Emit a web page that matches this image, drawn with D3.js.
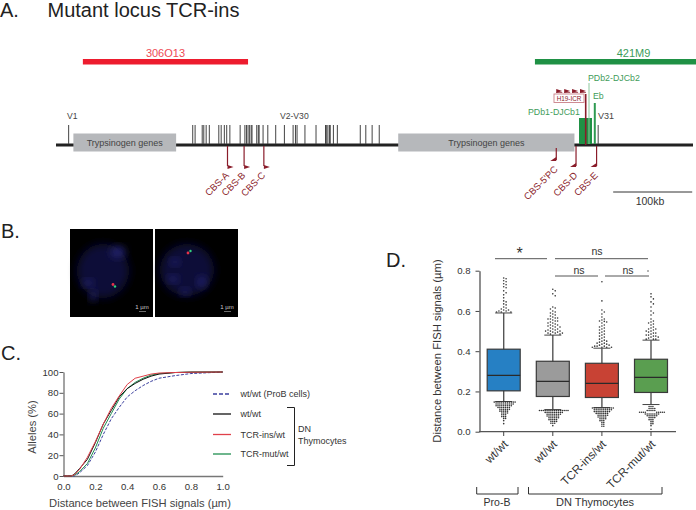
<!DOCTYPE html>
<html>
<head>
<meta charset="utf-8">
<script src="https://cdn.jsdelivr.net/npm/d3@7"></script>
<style>
  html, body { margin: 0; padding: 0; background: #fff; }
  svg { display: block; }
  text { font-family: "Liberation Sans", Arial, sans-serif; }
  .axis text { font-family: "Liberation Sans", Arial, sans-serif; }
</style>
</head>
<body>
<div id="chart"></div>
<script>
// Panel A: locus map, everything in kb along the locus
const vGenes = [16, 173, 176, 185, 187, 190, 194, 206, 209, 213, 216, 220, 233, 239, 241, 243, 245, 247, 248,
  254, 256, 257, 262, 268, 278, 289, 300, 303, 305, 315, 329, 341, 342, 344, 346, 347, 351, 356, 385, 392, 400, 409, 686];
const trypsinogen = [[22, 152], [433, 656]];
const bacs = [["306O13", 34, 243, "#ed1c2e", "#ee4a55"], ["421M9", 606, 812, "#1f9145", "#3c9c5a"]];
const cbsNames = ["CBS-A", "CBS-B", "CBS-C", "CBS-5'PC", "CBS-D", "CBS-E"];
const cbsSites = [217, 238, 263, 633, 658, 684];
const icrFlags = [633, 643, 653, 663];

// Panel C: cumulative curves
const cdfX = [0, 0.05, 0.07, 0.1, 0.15, 0.2, 0.25, 0.3, 0.35, 0.4, 0.45, 0.5, 0.55, 0.6, 0.7, 0.8, 1.0];
const cdfProB = [0, 0, 0, 3, 10, 23, 40, 55, 66, 76, 82, 87, 91, 94, 96.5, 98.5, 100];
const cdfWt = [0, 0, 2, 7, 16, 32, 50, 63, 76, 84, 89, 93, 96, 98, 99.5, 99.8, 100];
const cdfIns = [0, 0, 1.5, 6, 18, 33, 50, 65, 77, 88, 94, 96, 98, 99, 99.5, 99.8, 100];
const cdfMut = [0, 0, 1, 4, 12, 27, 46, 60, 74, 84, 90, 94, 97, 98.5, 99.5, 100, 100];
const legendNames = ["wt/wt (ProB cells)", "wt/wt", "TCR-ins/wt", "TCR-mut/wt"];

// Panel D: box plots
const boxNames = ["wt/wt ", "wt/wt", "TCR-ins/wt", "TCR-mut/wt"];
const boxLow = [0.15, 0.11, 0.12, 0.135];
const boxQ1 = [0.203, 0.175, 0.17, 0.195];
const boxMedian = [0.28, 0.25, 0.24, 0.27];
const boxQ3 = [0.41, 0.35, 0.34, 0.36];
const boxHigh = [0.59, 0.48, 0.415, 0.455];
const boxColors = ["#2680c4", "#9b9b9b", "#c84234", "#5a9e50"];

const outProB = [0.764, 0.76, 0.75, 0.745, 0.735, 0.73, 0.72, 0.715, 0.7, 0.69, 0.68, 0.665, 0.65, 0.645, 0.635, 0.63, 0.62, 0.615, 0.61, 0.605, 0.605, 0.6, 0.6, 0.595, 0.595, 0.595,
  0.147, 0.147, 0.147, 0.147, 0.147, 0.147, 0.147, 0.147, 0.147, 0.147, 0.147, 0.147, 0.138, 0.138, 0.138, 0.138, 0.138, 0.138, 0.138, 0.138, 0.138, 0.138,
  0.129, 0.129, 0.129, 0.129, 0.129, 0.129, 0.129, 0.129, 0.129, 0.12, 0.12, 0.12, 0.12, 0.12, 0.12, 0.12, 0.111, 0.111, 0.111, 0.111, 0.111, 0.111,
  0.102, 0.102, 0.102, 0.102, 0.102, 0.093, 0.093, 0.093, 0.093, 0.084, 0.084, 0.084, 0.075, 0.075, 0.075, 0.066, 0.066, 0.055, 0.04];
const outWt = [0.708, 0.7, 0.685, 0.675, 0.62, 0.615, 0.61, 0.6, 0.595, 0.59, 0.585, 0.58, 0.575, 0.57, 0.565, 0.565, 0.56, 0.56, 0.555, 0.55, 0.55, 0.545, 0.54, 0.54, 0.535, 0.53, 0.53, 0.525, 0.525, 0.52, 0.52, 0.515, 0.51, 0.51, 0.505, 0.505, 0.5, 0.5, 0.5, 0.495, 0.495, 0.49, 0.49, 0.49, 0.485, 0.485,
  0.105, 0.105, 0.105, 0.105, 0.105, 0.105, 0.105, 0.105, 0.105, 0.105, 0.105, 0.105, 0.105, 0.105, 0.105, 0.105, 0.096, 0.096, 0.096, 0.096, 0.096, 0.096, 0.096, 0.096, 0.096, 0.096, 0.087, 0.087, 0.087, 0.087, 0.087, 0.087, 0.087, 0.087,
  0.078, 0.078, 0.078, 0.078, 0.078, 0.078, 0.078, 0.069, 0.069, 0.069, 0.069, 0.069, 0.069, 0.06, 0.06, 0.06, 0.06, 0.06, 0.051, 0.051, 0.051, 0.051, 0.042, 0.042, 0.042, 0.03];
const outIns = [0.745, 0.65, 0.605, 0.595, 0.585, 0.57, 0.56, 0.555, 0.55, 0.548, 0.545, 0.54, 0.53, 0.525, 0.52, 0.515, 0.51, 0.505, 0.5, 0.495, 0.49, 0.485, 0.48, 0.475, 0.47, 0.465, 0.46, 0.455, 0.45, 0.45, 0.445, 0.44, 0.44, 0.435, 0.435, 0.43, 0.43, 0.425, 0.425, 0.425, 0.42, 0.42, 0.42, 0.42,
  0.118, 0.118, 0.118, 0.118, 0.118, 0.118, 0.118, 0.118, 0.118, 0.118, 0.118, 0.118, 0.109, 0.109, 0.109, 0.109, 0.109, 0.109, 0.109, 0.109, 0.109, 0.109, 0.1, 0.1, 0.1, 0.1, 0.1, 0.1, 0.1, 0.1, 0.1,
  0.091, 0.091, 0.091, 0.091, 0.091, 0.091, 0.091, 0.082, 0.082, 0.082, 0.082, 0.082, 0.082, 0.073, 0.073, 0.073, 0.073, 0.073, 0.064, 0.064, 0.064, 0.064, 0.055, 0.055, 0.055, 0.046, 0.046, 0.037, 0.037, 0.027, 0.027];
const outMut = [0.685, 0.67, 0.66, 0.645, 0.635, 0.62, 0.6, 0.59, 0.58, 0.56, 0.55, 0.545, 0.54, 0.535, 0.53, 0.52, 0.515, 0.51, 0.51, 0.505, 0.5, 0.5, 0.495, 0.49, 0.49, 0.485, 0.48, 0.48, 0.475, 0.475, 0.47, 0.47, 0.465, 0.46, 0.46, 0.46,
  0.125, 0.125, 0.125, 0.115, 0.115, 0.115, 0.115, 0.105, 0.105, 0.105, 0.105, 0.105, 0.097, 0.097, 0.097, 0.097, 0.097, 0.097, 0.097, 0.097, 0.097,
  0.088, 0.088, 0.088, 0.088, 0.088, 0.088, 0.088, 0.088, 0.079, 0.079, 0.079, 0.079, 0.079, 0.079, 0.07, 0.07, 0.07, 0.07, 0.06, 0.06, 0.06, 0.05, 0.05, 0.04, 0.04, 0.03, 0.012];
const outliers = [outProB, outWt, outIns, outMut];

const ink = "#333";
const darkRed = "#8a1c2a";
const svg = d3.select("#chart").append("svg").attr("width", 696).attr("height", 510);

// small helper for plain text
function label(g, x, y, txt, size, fill, anchor) {
  return g.append("text").attr("x", x).attr("y", y).attr("font-size", size)
    .attr("fill", fill || ink).attr("text-anchor", anchor || "start").text(txt);
}

// panel letters and title
const heads = svg.append("g");
label(heads, 0, 17, "A.", 20, "#222");
label(heads, 47.5, 17, "Mutant locus TCR-ins", 20, "#222");
label(heads, 1, 238, "B.", 20, "#222");
label(heads, 1, 360, "C.", 20, "#222");
label(heads, 386, 267, "D.", 20, "#222");

// ---------- Panel A ----------
const locus = d3.scaleLinear().domain([0, 806]).range([56, 693]);
const a = svg.append("g");

a.append("rect").attr("x", locus(0)).attr("y", 143.5).attr("width", locus(806) - locus(0)).attr("height", 3).attr("fill", "#222");

a.selectAll(".box").data(trypsinogen).join("rect")
  .attr("x", d => locus(d[0])).attr("width", d => locus(d[1]) - locus(d[0]))
  .attr("y", 133.5).attr("height", 18).attr("fill", "#b6b8bb");
trypsinogen.forEach(d => label(a, (locus(d[0]) + locus(d[1])) / 2, 146, "Trypsinogen genes", 9, "#444", "middle"));

a.selectAll(".vgene").data(vGenes).join("line")
  .attr("x1", d => locus(d)).attr("x2", d => locus(d)).attr("y1", 125).attr("y2", 144)
  .attr("stroke", "#444").attr("stroke-width", 1);

label(a, 67, 119, "V1", 8.6, "#444");
label(a, 280, 119, "V2-V30", 8.6, "#444");
label(a, 598, 119, "V31", 9, "#444");

bacs.forEach(b => {
  a.append("rect").attr("x", locus(b[1])).attr("width", locus(b[2]) - locus(b[1]))
    .attr("y", 59).attr("height", 5.5).attr("fill", b[3]);
  label(a, (locus(b[1]) + Math.min(locus(b[2]), 696)) / 2 + (b[0] === "421M9" ? 18 : 0), 56.5, b[0], 11, b[4], "middle");
});

// CBS sites
cbsSites.forEach((s, i) => {
  const x = locus(s), left = i >= 3;
  const y0 = i === 3 ? 148 : 146, y1 = i === 3 ? 160 : 166;
  a.append("line").attr("x1", x).attr("x2", x).attr("y1", y0).attr("y2", y1).attr("stroke", darkRed).attr("stroke-width", 1.2);
  const p = left ? [[x, y1 - 3], [x, y1 + 1], [x - 6, y1 + 1]] : [[x, y1 - 1], [x, y1 + 3], [x + 6, y1 + 1]];
  a.append("polygon").attr("points", p.join(" ")).attr("fill", darkRed);
  const lx = x + 2, ly = i === 3 ? 170 : 176;
  a.append("text").attr("transform", `translate(${lx},${ly}) rotate(-45)`).attr("text-anchor", "end")
    .attr("font-size", 9.5).attr("fill", darkRed).text(cbsNames[i]);
});

// PDb / Eb elements and the H19-ICR insert
a.append("rect").attr("x", 579).attr("y", 118).attr("width", 13).attr("height", 26).attr("fill", "#1f9145");
a.append("line").attr("x1", 589).attr("x2", 589).attr("y1", 83).attr("y2", 144).attr("stroke", "#8cc79c").attr("stroke-width", 1);
a.append("line").attr("x1", 594.8).attr("x2", 594.8).attr("y1", 103).attr("y2", 144).attr("stroke", "#2f9a52").attr("stroke-width", 2);
a.append("line").attr("x1", 585.7).attr("x2", 585.7).attr("y1", 94).attr("y2", 145).attr("stroke", darkRed).attr("stroke-width", 1.6);
a.append("rect").attr("x", 554).attr("y", 94).attr("width", 30).attr("height", 8.5).attr("fill", "#fff").attr("stroke", "#c98088").attr("stroke-width", 0.9);
label(a, 569, 101, "H19-ICR", 6.3, darkRed, "middle");
icrFlags.forEach(k => {
  const x = locus(k) + 5;
  a.append("polygon").attr("points", [[x - 5, 89], [x - 5, 93], [x + 1, 91]].join(" ")).attr("fill", darkRed);
  a.append("line").attr("x1", x - 5).attr("x2", x + 1).attr("y1", 92.5).attr("y2", 92.5).attr("stroke", darkRed).attr("stroke-width", 0.7);
});
label(a, 588, 80.5, "PDb2-DJCb2", 8.8, "#3f9c5a");
label(a, 593, 99, "Eb", 8.8, "#3f9c5a");
label(a, 528, 115, "PDb1-DJCb1", 8.8, "#3f9c5a");

// scale bar
a.append("line").attr("x1", locus(705)).attr("x2", locus(805)).attr("y1", 192).attr("y2", 192).attr("stroke", "#333").attr("stroke-width", 1);
label(a, 650, 205, "100kb", 10.5, "#333", "middle");

// ---------- Panel B (micrographs) ----------
const defs = svg.append("defs");
defs.append("filter").attr("id", "soft").attr("x", "-50%").attr("y", "-50%").attr("width", "200%").attr("height", "200%")
  .append("feGaussianBlur").attr("stdDeviation", 4);
defs.append("filter").attr("id", "softer").attr("x", "-100%").attr("y", "-100%").attr("width", "300%").attr("height", "300%")
  .append("feGaussianBlur").attr("stdDeviation", 0.6);

const cells = [
  { x: 70, nucleus: [103, 271, 26, 27], patches: [[88, 283, 5, 3], [93, 296, 3, 5], [118, 252, 7, 5]], red: [113, 284.5], green: [115, 286.5], bar: 143 },
  { x: 155, nucleus: [187, 270, 27, 26], patches: [[173, 279, 5, 3], [202, 282, 4, 5], [175, 262, 4, 3], [185, 292, 4, 3]], red: [188, 253], green: [190.5, 251], bar: 228 }
];
cells.forEach(c => {
  const g = svg.append("g");
  g.append("rect").attr("x", c.x).attr("y", 229).attr("width", 83).attr("height", 88).attr("fill", "#000");
  g.append("ellipse").attr("cx", c.nucleus[0]).attr("cy", c.nucleus[1]).attr("rx", c.nucleus[2]).attr("ry", c.nucleus[3])
    .attr("fill", "#0c0c38").attr("filter", "url(#soft)");
  c.patches.forEach(p => g.append("ellipse").attr("cx", p[0]).attr("cy", p[1]).attr("rx", p[2]).attr("ry", p[3])
    .attr("fill", "#2a2a80").attr("filter", "url(#soft)"));
  g.append("circle").attr("cx", c.red[0]).attr("cy", c.red[1]).attr("r", 1.4).attr("fill", "#e8304a").attr("filter", "url(#softer)");
  g.append("circle").attr("cx", c.green[0]).attr("cy", c.green[1]).attr("r", 1.2).attr("fill", "#30d080").attr("filter", "url(#softer)");
  label(g, c.bar - 1, 309, "1 µm", 6, "#ccc", "middle");
  g.append("line").attr("x1", c.bar - 4).attr("x2", c.bar + 3).attr("y1", 311.5).attr("y2", 311.5).attr("stroke", "#999").attr("stroke-width", 0.7);
});

// ---------- Panel C ----------
const cx = d3.scaleLinear().domain([0, 1]).range([63.5, 222.7]);
const cy = d3.scaleLinear().domain([0, 100]).range([476, 372]);
const c = svg.append("g");

c.append("g").attr("class", "axis").attr("transform", "translate(63.5,0)")
  .call(d3.axisLeft(cy).tickValues([0, 20, 40, 60, 80, 100]).tickSize(4).tickSizeOuter(0).tickPadding(1))
  .call(g => g.select(".domain").attr("stroke", "#666").attr("stroke-width", 1.2))
  .call(g => g.selectAll("line").attr("stroke", "#555"))
  .call(g => g.selectAll("text").attr("font-size", 9.6).attr("fill", ink));
c.append("g").attr("class", "axis").attr("transform", "translate(0,476)")
  .call(d3.axisBottom(cx).tickValues([0, 0.2, 0.4, 0.6, 0.8, 1]).tickFormat(d3.format(".1f")).tickSize(0).tickSizeOuter(0).tickPadding(7))
  .call(g => g.select(".domain").attr("stroke", "#777").attr("stroke-width", 1.6))
  .call(g => g.selectAll("text").attr("font-size", 9.6).attr("fill", ink));

const curve = d3.line().x((d, i) => cx(cdfX[i])).y(d => cy(d));
const cdfs = [cdfProB, cdfWt, cdfIns, cdfMut];
const cdfColors = ["#3b3f9e", "#111", "#e0404a", "#1f8f50"];
[0, 3, 1, 2].forEach(i => {
  c.append("path").attr("d", curve(cdfs[i])).attr("fill", "none").attr("stroke", cdfColors[i])
    .attr("stroke-width", 1).attr("stroke-dasharray", i === 0 ? "3,1.5" : null);
});

const legendY = [394, 414, 434.5, 454];
legendNames.forEach((n, i) => {
  c.append("line").attr("x1", 213).attr("x2", 231).attr("y1", legendY[i]).attr("y2", legendY[i])
    .attr("stroke", cdfColors[i]).attr("stroke-width", 1.3).attr("stroke-dasharray", i === 0 ? "4,2" : null);
  label(c, 240.5, legendY[i] + 3, n, 9, ink);
});
c.append("path").attr("d", "M287,407.5H294.5V465.5H287").attr("fill", "none").attr("stroke", "#222").attr("stroke-width", 1);
label(c, 298, 432, "DN", 9, ink);
label(c, 298, 444, "Thymocytes", 9, ink);
label(c, 140, 507, "Distance between FISH signals (µm)", 11.2, "#444", "middle");
c.append("text").attr("transform", "translate(36,427) rotate(-90)").attr("text-anchor", "middle")
  .attr("font-size", 11.2).attr("fill", "#444").text("Alleles (%)");

// ---------- Panel D ----------
const dx = d3.scalePoint().domain(boxNames).range([503.7, 651]);
const dy = d3.scaleLinear().domain([0, 0.8]).range([431.7, 270.7]);
const d = svg.append("g");
const boxW = 33;

d.append("g").attr("class", "axis").attr("transform", "translate(479.5,0)")
  .call(d3.axisLeft(dy).tickValues([0, 0.2, 0.4, 0.6, 0.8]).tickFormat(d3.format(".1f")).tickSize(4).tickSizeOuter(0).tickPadding(5))
  .call(g => g.select(".domain").attr("stroke", "#444").attr("stroke-width", 1.2))
  .call(g => g.selectAll("line").attr("stroke", "#444"))
  .call(g => g.selectAll("text").attr("font-size", 9.6).attr("fill", ink));
d.append("line").attr("x1", 479).attr("x2", 676).attr("y1", 431.7).attr("y2", 431.7).attr("stroke", "#555").attr("stroke-width", 1.2);

d.append("text").attr("transform", "translate(441,351) rotate(-90)").attr("text-anchor", "middle")
  .attr("font-size", 11.3).attr("fill", "#333").text("Distance between FISH signals (µm)");

// dodge the outliers sideways so they do not overlap, like a prism scatter
function dodge(values, spacing) {
  const placed = [];
  values.forEach(v => {
    const y = dy(v);
    for (let k = 0; ; k++) {
      const off = (k % 2 ? 1 : -1) * Math.ceil(k / 2) * spacing;
      if (placed.every(p => Math.hypot(p.off - off, p.y - y) >= spacing * 0.95)) {
        placed.push({ off, y });
        break;
      }
    }
  });
  return placed;
}

boxNames.forEach((n, i) => {
  const x = dx(n);
  const g = d.append("g");
  g.append("line").attr("x1", x).attr("x2", x).attr("y1", dy(boxLow[i])).attr("y2", dy(boxHigh[i])).attr("stroke", "#555").attr("stroke-width", 1.4);
  [boxLow[i], boxHigh[i]].forEach(v => g.append("line").attr("x1", x - 8.5).attr("x2", x + 8.5).attr("y1", dy(v)).attr("y2", dy(v)).attr("stroke", "#444").attr("stroke-width", 1));
  g.append("rect").attr("x", x - boxW / 2).attr("width", boxW).attr("y", dy(boxQ3[i])).attr("height", dy(boxQ1[i]) - dy(boxQ3[i]))
    .attr("fill", boxColors[i]).attr("stroke", "#3a3a3a").attr("stroke-width", 1.2);
  g.append("line").attr("x1", x - boxW / 2).attr("x2", x + boxW / 2).attr("y1", dy(boxMedian[i])).attr("y2", dy(boxMedian[i])).attr("stroke", "#2a2a2a").attr("stroke-width", 1.3);
  // upper outliers are looser than the tight rows under the whisker
  const upper = dodge(outliers[i].filter(v => v > boxHigh[i]), 2.4);
  const lower = dodge(outliers[i].filter(v => v < boxLow[i]), 1.9);
  g.selectAll("circle").data(upper.concat(lower)).join("circle")
    .attr("cx", p => x + p.off).attr("cy", p => p.y).attr("r", 0.8).attr("fill", "#333");
  g.append("line").attr("x1", x).attr("x2", x).attr("y1", 431.7).attr("y2", 436).attr("stroke", "#444").attr("stroke-width", 1);
  g.append("text").attr("transform", `translate(${x + 5},${445}) rotate(-45)`).attr("text-anchor", "end")
    .attr("font-size", 11.8).attr("fill", ink).text(n.trim());
});

// significance bars
const sig = [[495, 547, 258.7, "*", 519.5, 259, 16], [555, 648, 258.7, "ns", 597, 255, 10.5], [555, 598, 276, "ns", 579, 274, 10.5], [605, 649, 276, "ns", 628, 274, 10.5]];
sig.forEach(s => {
  d.append("line").attr("x1", s[0]).attr("x2", s[1]).attr("y1", s[2]).attr("y2", s[2]).attr("stroke", "#555").attr("stroke-width", 1);
  label(d, s[4], s[5], s[3], s[6], ink, "middle");
});
d.append("circle").attr("cx", 648).attr("cy", 271).attr("r", 0.7).attr("fill", "#333");

// group brackets under the axis
d.append("path").attr("d", "M476.7,487V494H518V487").attr("fill", "none").attr("stroke", "#333").attr("stroke-width", 1);
d.append("path").attr("d", "M528.5,487V494H662V487").attr("fill", "none").attr("stroke", "#333").attr("stroke-width", 1);
label(d, 497, 506, "Pro-B", 10.5, ink, "middle");
label(d, 595, 506, "DN Thymocytes", 11, ink, "middle");
</script>
</body>
</html>
